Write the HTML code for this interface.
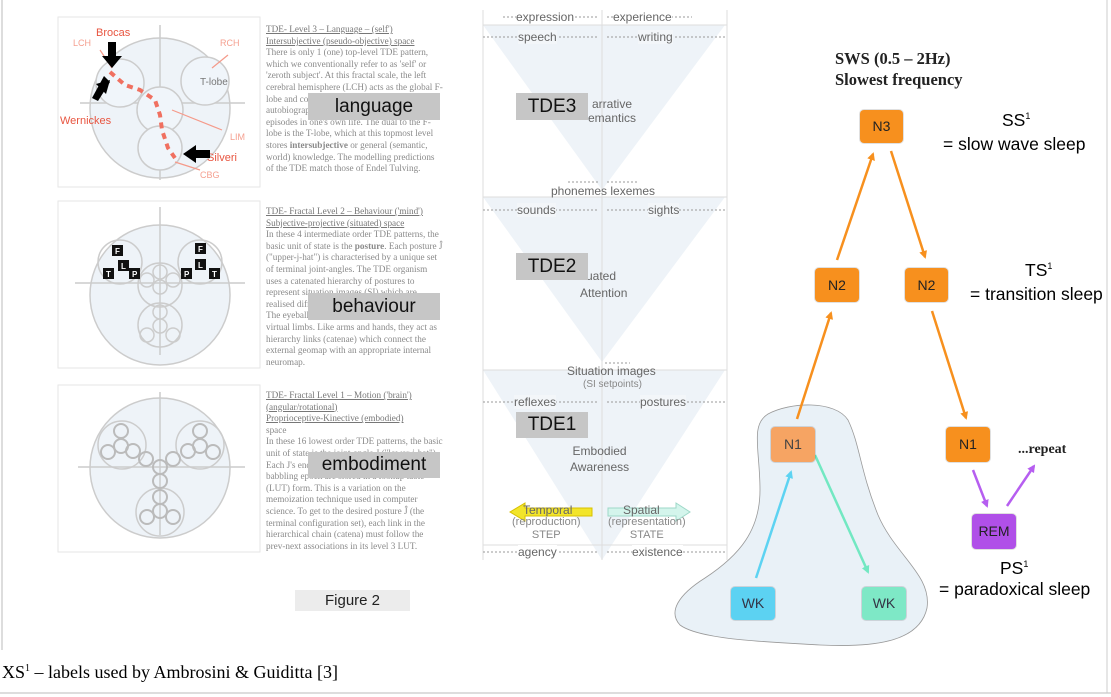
<!DOCTYPE html>
<html><head><meta charset="utf-8"><style>
body{margin:0;width:1111px;height:697px;background:#fff;position:relative;overflow:hidden;font-family:"Liberation Sans",sans-serif}
.a{position:absolute}
.txt{position:absolute;font-family:"Liberation Serif",serif;font-size:9.2px;line-height:11.6px;color:#8a8a8a;width:178px}
.txt u{color:#777}
.lab{position:absolute;background:#c6c6c6;color:#111;font-size:19px;text-align:center}
.node{position:absolute;border-radius:4px;font-size:14px;text-align:center;color:#222;box-shadow:0 0 0 1px rgba(0,0,0,0.12)}
.r{position:absolute;font-size:17.5px;color:#000;white-space:nowrap}
.m{position:absolute;font-size:12px;color:#666;white-space:nowrap}
</style></head><body>
<svg class="a" style="left:0;top:0" width="1111" height="697">
 <line x1="2" y1="0" x2="2" y2="650" stroke="#bbb"/>
 <line x1="0" y1="693" x2="1111" y2="693" stroke="#bbb"/>
 <line x1="1107" y1="0" x2="1107" y2="693" stroke="#ccc"/>
 <rect x="58" y="17" width="202" height="170" fill="#fff" stroke="#e6e6e6"/>
 <rect x="58" y="201" width="202" height="167" fill="#fff" stroke="#e6e6e6"/>
 <rect x="58" y="385" width="202" height="167" fill="#fff" stroke="#e6e6e6"/>
 <g stroke="#ccc" stroke-width="1.5" fill="none">
  <circle cx="160" cy="108" r="70" fill="#eef3f8"/>
  <line x1="160" y1="25" x2="160" y2="180"/><line x1="80" y1="103" x2="245" y2="103"/>
  <circle cx="120" cy="83" r="24" fill="#f0f5fa"/><circle cx="205" cy="81" r="24" fill="#f0f5fa"/>
  <circle cx="160" cy="110" r="23" fill="#f0f5fa"/><circle cx="160" cy="148" r="22" fill="#f0f5fa"/>
 </g>
 <text x="200" y="85" font-size="10" fill="#777">T-lobe</text>
 <path d="M110 72 L125 85 L140 90 L155 100 L160 115 L162 130 L168 148 L175 158" stroke="#f07060" stroke-width="4" stroke-dasharray="6,5" fill="none"/>
 <g stroke="#f59a8a" stroke-width="1.2"><line x1="100" y1="50" x2="112" y2="68"/><line x1="228" y1="55" x2="212" y2="68"/><line x1="172" y1="110" x2="222" y2="130"/><line x1="175" y1="162" x2="200" y2="170"/></g>
 <g font-size="9" fill="#f5a090"><text x="73" y="46">LCH</text><text x="220" y="46">RCH</text><text x="230" y="140">LIM</text><text x="200" y="178">CBG</text></g>
 <g font-size="11" fill="#e85540"><text x="96" y="36">Brocas</text><text x="60" y="124">Wernickes</text><text x="207" y="161">Silveri</text></g>
 <g fill="#000"><polygon points="108,42 116,42 116,56 122,56 112,68 102,56 108,56"/><polygon points="110,82 104,76 92,98 98,101"/><polygon points="96,84 110,80 106,94"/><polygon points="210,150 196,150 196,145 183,154 196,163 196,158 210,158"/></g>
 <g stroke="#ccc" stroke-width="1.5" fill="none">
  <circle cx="160" cy="295" r="70" fill="#eef3f8"/>
  <line x1="160" y1="207" x2="160" y2="355"/><line x1="75" y1="283" x2="245" y2="283"/>
  <circle cx="120" cy="262" r="22"/><circle cx="200" cy="262" r="22"/>
  <circle cx="160" cy="285" r="22"/><circle cx="160" cy="325" r="22"/>
  <circle cx="160" cy="272" r="7"/><circle cx="160" cy="287" r="7"/><circle cx="147" cy="280" r="7"/><circle cx="173" cy="280" r="7"/><circle cx="160" cy="312" r="7"/><circle cx="160" cy="326" r="7"/><circle cx="147" cy="335" r="7"/><circle cx="173" cy="335" r="7"/>
 </g>
 <g fill="#111"><rect x="112" y="245" width="11" height="11"/><rect x="118" y="260" width="11" height="11"/><rect x="103" y="268" width="11" height="11"/><rect x="129" y="268" width="11" height="11"/>
 <rect x="195" y="243" width="11" height="11"/><rect x="195" y="259" width="11" height="11"/><rect x="181" y="268" width="11" height="11"/><rect x="209" y="268" width="11" height="11"/></g>
 <g fill="#fff" font-size="8" font-weight="bold"><text x="115" y="254">F</text><text x="121" y="269">L</text><text x="106" y="277">T</text><text x="132" y="277">P</text><text x="198" y="252">F</text><text x="198" y="268">L</text><text x="184" y="277">P</text><text x="212" y="277">T</text></g>
 <g stroke="#ccc" stroke-width="1.5" fill="none">
  <circle cx="160" cy="468" r="70" fill="#eef3f8"/>
  <line x1="160" y1="392" x2="160" y2="535"/><line x1="78" y1="467" x2="245" y2="467"/>
  <circle cx="122" cy="445" r="24"/><circle cx="200" cy="445" r="24"/><circle cx="160" cy="512" r="24"/>
  <g stroke="#bbb" stroke-width="2">
  <circle cx="121" cy="431" r="7"/><circle cx="121" cy="446" r="7"/><circle cx="108" cy="452" r="7"/><circle cx="133" cy="451" r="7"/><circle cx="146" cy="459" r="7"/>
  <circle cx="200" cy="431" r="7"/><circle cx="200" cy="446" r="7"/><circle cx="213" cy="452" r="7"/><circle cx="188" cy="451" r="7"/><circle cx="173" cy="459" r="7"/>
  <circle cx="160" cy="467" r="7"/><circle cx="160" cy="481" r="7"/><circle cx="160" cy="497" r="7"/><circle cx="160" cy="511" r="7"/><circle cx="147" cy="517" r="7"/><circle cx="173" cy="517" r="7"/></g>
 </g>
 <g fill="#eef3f8">
  <polygon points="483,25 725,25 602,190"/>
  <polygon points="483,197 725,197 602,362"/>
  <polygon points="483,370 725,370 602,560"/>
 </g>
 <g stroke="#ddd" fill="none"><line x1="483" y1="10" x2="483" y2="560"/><line x1="602" y1="10" x2="602" y2="560"/><line x1="727" y1="10" x2="727" y2="560"/>
 <line x1="483" y1="197" x2="727" y2="197"/><line x1="483" y1="370" x2="727" y2="370"/><line x1="483" y1="545" x2="727" y2="545"/><line x1="483" y1="25" x2="727" y2="25"/></g>
 <g stroke="#999" stroke-dasharray="2,2"><line x1="503" y1="17" x2="598" y2="17"/><line x1="607" y1="17" x2="692" y2="17"/><line x1="483" y1="37" x2="598" y2="37"/><line x1="607" y1="37" x2="725" y2="37"/>
 <line x1="483" y1="210" x2="598" y2="210"/><line x1="607" y1="210" x2="725" y2="210"/><line x1="483" y1="402" x2="598" y2="402"/><line x1="607" y1="402" x2="725" y2="402"/><line x1="483" y1="552" x2="598" y2="552"/><line x1="607" y1="552" x2="725" y2="552"/>
 <line x1="568" y1="182" x2="598" y2="182"/><line x1="607" y1="182" x2="637" y2="182"/><line x1="605" y1="363" x2="630" y2="363"/></g>
 <polygon points="592,508 525,508 525,503 510,512 525,521 525,516 592,516" fill="#f2e52a" stroke="#d8c000"/>
 <polygon points="608,508 676,508 676,503 690,512 676,521 676,516 608,516" fill="#d4f5ec" stroke="#9ed8c8"/>
 <path d="M768,414 C790,402 835,400 848,420 C860,445 860,470 878,515 C895,555 932,575 927,608 C920,640 880,648 820,645 C770,642 700,640 680,625 C668,612 678,595 705,578 C740,555 760,530 760,490 C760,450 750,425 768,414 Z" fill="#e9f1f7" stroke="#999" stroke-width="0.8"/>
 <defs>
  <marker id="ao" markerWidth="8" markerHeight="8" refX="6" refY="4" orient="auto" markerUnits="userSpaceOnUse"><path d="M0,0 L8,4 L0,8 Z" fill="#f7901e"/></marker>
  <marker id="ac" markerWidth="8" markerHeight="8" refX="6" refY="4" orient="auto" markerUnits="userSpaceOnUse"><path d="M0,0 L8,4 L0,8 Z" fill="#5dd3f2"/></marker>
  <marker id="ag" markerWidth="8" markerHeight="8" refX="6" refY="4" orient="auto" markerUnits="userSpaceOnUse"><path d="M0,0 L8,4 L0,8 Z" fill="#72e8c2"/></marker>
  <marker id="ap" markerWidth="8" markerHeight="8" refX="6" refY="4" orient="auto" markerUnits="userSpaceOnUse"><path d="M0,0 L8,4 L0,8 Z" fill="#b65ef0"/></marker>
 </defs>
 <g stroke-width="2.5">
  <line x1="837" y1="260" x2="873" y2="154" stroke="#f7901e" marker-end="url(#ao)"/>
  <line x1="891" y1="151" x2="925" y2="257" stroke="#f7901e" marker-end="url(#ao)"/>
  <line x1="797" y1="419" x2="831" y2="313" stroke="#f7901e" marker-end="url(#ao)"/>
  <line x1="932" y1="311" x2="966" y2="418" stroke="#f7901e" marker-end="url(#ao)"/>
  <line x1="756" y1="578" x2="791" y2="472" stroke="#5dd3f2" marker-end="url(#ac)"/>
  <line x1="815" y1="455" x2="868" y2="572" stroke="#72e8c2" marker-end="url(#ag)"/>
  <line x1="973" y1="470" x2="987" y2="506" stroke="#b65ef0" marker-end="url(#ap)"/>
  <line x1="1007" y1="506" x2="1034" y2="466" stroke="#b65ef0" marker-end="url(#ap)"/>
 </g>
</svg>

<div class="txt" style="left:266px;top:24px"><u>TDE- Level 3 – Language – (self')</u><br><u>Intersubjective (pseudo-objective) space</u><br>There is only 1 (one) top-level TDE pattern, which we conventionally refer to as 'self' or 'zeroth subject'. At this fractal scale, the left cerebral hemisphere (LCH) acts as the global F-lobe and contains autobiographic (or autobiographical) knowledge of events and episodes in one's own life. The dual to the F-lobe is the T-lobe, which at this topmost level stores <b>intersubjective</b> or general (semantic, world) knowledge. The modelling predictions of the TDE match those of Endel Tulving.</div>
<div class="txt" style="left:266px;top:206px"><u>TDE- Fractal Level 2 – Behaviour ('mind')</u><br><u>Subjective-projective (situated) space</u><br>In these 4 intermediate order TDE patterns, the basic unit of state is the <b>posture</b>. Each posture Ĵ ("upper-j-hat") is characterised by a unique set of terminal joint-angles. The TDE organism uses a catenated hierarchy of postures to represent situation images (SI) which are realised differently in actual bodily postures. The eyeballs are modelled as variable-scale virtual limbs. Like arms and hands, they act as hierarchy links (catenae) which connect the external geomap with an appropriate internal neuromap.</div>
<div class="txt" style="left:266px;top:390px"><u>TDE- Fractal Level 1 – Motion ('brain')</u><br><u>(angular/rotational)</u><br><u>Proprioceptive-Kinective (embodied)</u><br>space<br>In these 16 lowest order TDE patterns, the basic unit of state is the joint-angle J ("lower-j-hat"). Each J's encountered during the sensorimotor babbling epoch are stored in a lookup table (LUT) form. This is a variation on the memoization technique used in computer science. To get to the desired posture Ĵ (the terminal configuration set), each link in the hierarchical chain (catena) must follow the prev-next associations in its level 3 LUT.</div>

<div class="lab" style="left:308px;top:93px;width:132px;height:27px;line-height:27px">language</div>
<div class="lab" style="left:308px;top:293px;width:132px;height:27px;line-height:27px">behaviour</div>
<div class="lab" style="left:308px;top:452px;width:132px;height:26px;line-height:26px">embodiment</div>
<div class="a" style="left:295px;top:590px;width:115px;height:21px;background:#ececec;font-size:15px;text-align:center;line-height:21px;color:#222">Figure 2</div>

<div class="m" style="left:516px;top:10px;background:#fff">expression</div>
<div class="m" style="left:613px;top:10px;background:#fff">experience</div>
<div class="m" style="left:518px;top:30px;background:#f3f6f9">speech</div>
<div class="m" style="left:638px;top:30px;background:#f3f6f9">writing</div>
<div class="m" style="left:551px;top:184px">phonemes lexemes</div>
<div class="m" style="left:517px;top:203px;background:#f3f6f9">sounds</div>
<div class="m" style="left:648px;top:203px;background:#f3f6f9">sights</div>
<div class="m" style="left:567px;top:364px">Situation images</div>
<div class="m" style="left:583px;top:379px;font-size:10px;color:#888">(SI setpoints)</div>
<div class="m" style="left:514px;top:395px;background:#f3f6f9">reflexes</div>
<div class="m" style="left:640px;top:395px;background:#f3f6f9">postures</div>
<div class="m" style="left:588px;top:97px;text-align:center">arrative<br>emantics</div>
<div class="m" style="left:580px;top:268px;line-height:17px">ituated<br>Attention</div>
<div class="m" style="left:570px;top:443px;line-height:16px;text-align:center">Embodied<br>Awareness</div>
<div class="m" style="left:523px;top:503px">Temporal</div>
<div class="m" style="left:623px;top:503px">Spatial</div>
<div class="m" style="left:512px;top:516px;font-size:11px;line-height:13px;text-align:center;color:#888">(reproduction)<br>STEP</div>
<div class="m" style="left:608px;top:516px;font-size:11px;line-height:13px;text-align:center;color:#888">(representation)<br>STATE</div>
<div class="m" style="left:518px;top:545px;background:#fff">agency</div>
<div class="m" style="left:632px;top:545px;background:#fff">existence</div>
<div class="lab" style="left:516px;top:93px;width:72px;height:27px;line-height:27px">TDE3</div>
<div class="lab" style="left:516px;top:253px;width:72px;height:27px;line-height:27px">TDE2</div>
<div class="lab" style="left:516px;top:412px;width:72px;height:26px;line-height:26px">TDE1</div>

<div class="a" style="left:835px;top:48px;font-family:'Liberation Serif',serif;font-weight:bold;font-size:16.5px;line-height:21px;color:#222">SWS (0.5 – 2Hz)<br>Slowest frequency</div>
<div class="node" style="left:860px;top:110px;width:43px;height:33px;line-height:33px;background:#f7901e">N3</div>
<div class="node" style="left:815px;top:268px;width:44px;height:34px;line-height:34px;background:#f7901e">N2</div>
<div class="node" style="left:905px;top:268px;width:43px;height:34px;line-height:34px;background:#f7901e">N2</div>
<div class="node" style="left:771px;top:427px;width:44px;height:35px;line-height:35px;background:#f6a463;color:#444">N1</div>
<div class="node" style="left:946px;top:427px;width:44px;height:35px;line-height:35px;background:#f7901e">N1</div>
<div class="node" style="left:972px;top:514px;width:44px;height:35px;line-height:35px;background:#b050e8">REM</div>
<div class="node" style="left:731px;top:587px;width:44px;height:33px;line-height:33px;background:#5cd2f2;color:#334">WK</div>
<div class="node" style="left:862px;top:587px;width:44px;height:33px;line-height:33px;background:#7ee8c6;color:#334">WK</div>
<div class="r" style="left:1002px;top:110px">SS<sup style="font-size:9px">1</sup></div>
<div class="r" style="left:943px;top:134px">= slow wave sleep</div>
<div class="r" style="left:1025px;top:260px">TS<sup style="font-size:9px">1</sup></div>
<div class="r" style="left:970px;top:284px">= transition sleep</div>
<div class="r" style="left:1000px;top:558px">PS<sup style="font-size:9px">1</sup></div>
<div class="r" style="left:939px;top:579px">= paradoxical sleep</div>
<div class="a" style="left:1018px;top:442px;font-family:'Liberation Serif',serif;font-weight:bold;font-size:14px;color:#222">...repeat</div>

<div class="a" style="left:2px;top:662px;font-family:'Liberation Serif',serif;font-size:18px;color:#000">XS<sup style="font-size:10px">1</sup> – labels used by Ambrosini &amp; Guiditta [3]</div>
</body></html>
